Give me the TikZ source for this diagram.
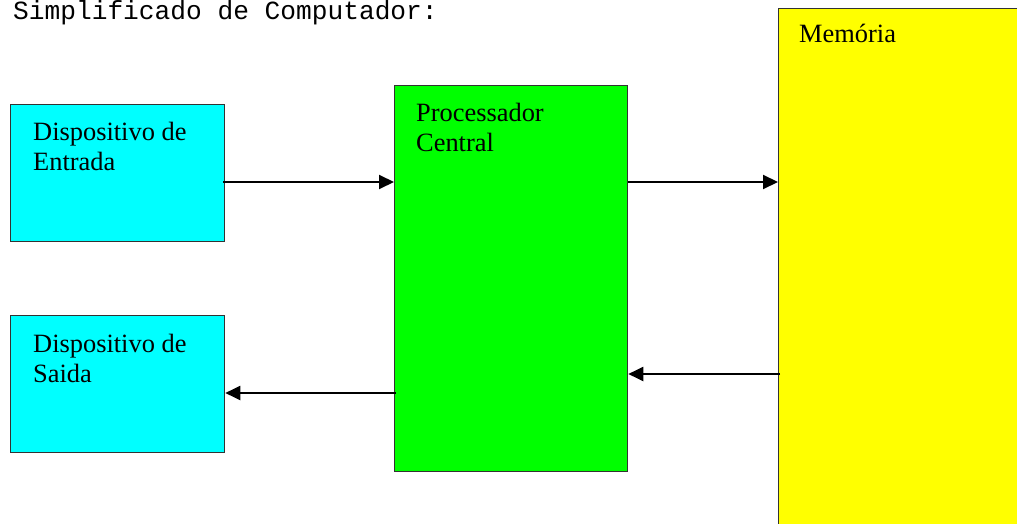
\documentclass[tikz,border=0pt]{standalone}
\usepackage{fontspec}
\setmainfont{Liberation Serif}
\setmonofont{Liberation Mono}
\usetikzlibrary{arrows.meta}
\definecolor{cy}{HTML}{00FFFF}
\definecolor{gr}{HTML}{00FF00}
\definecolor{ye}{HTML}{FFFF00}
\tikzset{
  box/.style={draw=black!80, line width=1.3pt, rectangle, inner sep=0pt, anchor=north west},
  lbl/.style={anchor=base west, inner sep=0pt, align=left, font=\fontsize{26.4}{30}\selectfont},
  arr/.style={line width=2pt, -{Triangle[length=15pt,width=14pt]}}
}
\begin{document}
\begin{tikzpicture}[x=1pt,y=-1pt]
\useasboundingbox (0,0) rectangle (1017,524);
\clip (0,0) rectangle (1017,524);
\node[anchor=base west, inner sep=0pt, font=\ttfamily\fontsize{26.2}{30}\selectfont] (title) at (13,20) {Simplificado de Computador:};
\node[box, fill=cy, minimum width=214pt, minimum height=137pt] (ent) at (10,104) {};
\node[box, fill=cy, minimum width=214pt, minimum height=137pt] (sai) at (10,315) {};
\node[box, fill=gr, minimum width=233pt, minimum height=386pt] (proc) at (394,85) {};
\node[box, fill=ye, minimum width=260pt, minimum height=540pt] (mem) at (778,8) {};
\node[lbl] (tent) at (33,170) {Dispositivo de\\Entrada};
\node[lbl] (tsai) at (33,382) {Dispositivo de\\Saida};
\node[lbl] (tproc) at (416,152) {Processador\\Central};
\node[lbl] (tmem) at (799,43) {Memória};
\coordinate (ya) at (0,182);
\coordinate (yb) at (0,374);
\coordinate (yc) at (0,393);
\draw[arr] ([xshift=-2pt]ent.east |- ya) -- (proc.west |- ya);
\draw[arr] (proc.east |- ya) -- (mem.west |- ya);
\draw[arr] ([xshift=2pt]mem.west |- yb) -- (proc.east |- yb);
\draw[arr] ([xshift=2pt]proc.west |- yc) -- (sai.east |- yc);
\end{tikzpicture}
\end{document}
